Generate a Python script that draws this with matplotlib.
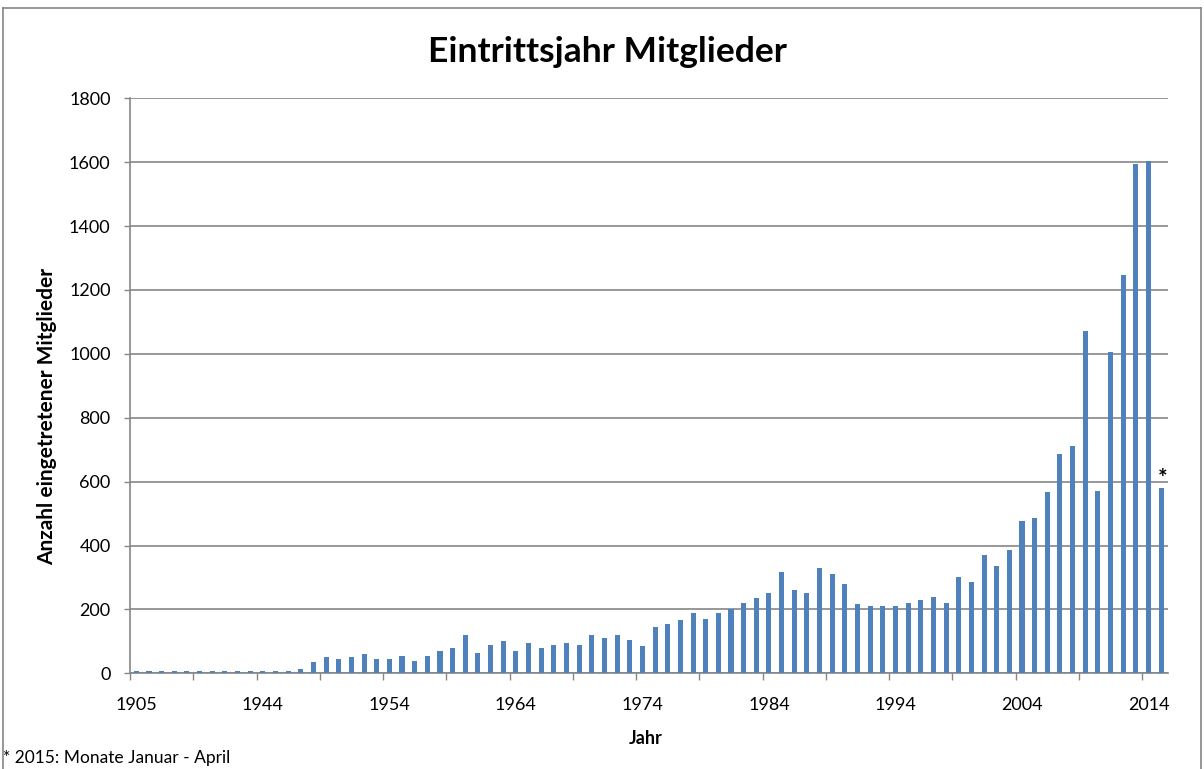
import matplotlib
matplotlib.use("Agg")
import matplotlib.pyplot as plt
from matplotlib.lines import Line2D

# ---- data ----
years = ["1905"] + [str(y) for y in range(1935, 2016)]
members = [
    6,                                              # 1905
    6, 6, 6, 6, 6, 6, 6, 6, 6, 6, 6, 6,             # 1935-1946
    15, 35, 50, 45, 50, 60, 45,                     # 1947-1953
    45, 55, 40, 55, 70, 80, 121, 65, 90, 101,       # 1954-1963
    70, 96, 80, 90, 96, 90, 121, 110, 121, 105,     # 1964-1973
    85, 146, 155, 166, 190, 171, 190, 201, 220, 235,  # 1974-1983
    250, 316, 260, 250, 331, 310, 280, 216, 210, 210,  # 1984-1993
    210, 220, 230, 240, 220, 300, 285, 370, 335, 385,  # 1994-2003
    476, 486, 566, 687, 711, 1073, 571, 1007, 1248, 1595,  # 2004-2013
    1605, 581,                                      # 2014-2015
]
yticks = [0, 200, 400, 600, 800, 1000, 1200, 1400, 1600, 1800]
title = "Eintrittsjahr Mitglieder"
xlabel = "Jahr"
ylabel = "Anzahl eingetretener Mitglieder"
footnote = "* 2015: Monate Januar - April"

BAR = "#4F81BD"
GRID = "#868686"
FONT = ["Lato", "DejaVu Sans"]
plt.rcParams["font.family"] = FONT

W, H = 1204, 769
fig = plt.figure(figsize=(W / 100, H / 100), dpi=100, facecolor="white")
ax = fig.add_axes([130 / W, 1 - 673.3 / H, (1167.5 - 130) / W, (673.3 - 98.3) / H])

x = list(range(len(years)))
ax.bar(x, members, width=0.4, color=BAR, zorder=3)

ax.set_xlim(-0.5, len(years) - 0.5)
ax.set_ylim(0, 1800)

ax.set_yticks(yticks)
ax.set_yticklabels([str(v) for v in yticks])
ax.yaxis.grid(True, color=GRID, linewidth=1.2, zorder=0)
ax.tick_params(axis="y", length=4, width=1, color=GRID, pad=10, labelsize=13)

# major ticks at category boundaries every 5 categories (no labels)
ax.set_xticks([i - 0.5 for i in range(0, len(years), 5)])
ax.set_xticklabels([])
ax.tick_params(axis="x", which="major", length=5, width=1, color=GRID)
# labels every 10 categories
lab_idx = list(range(0, len(years), 10))
ax.set_xticks(lab_idx, minor=True)
ax.set_xticklabels([years[i] for i in lab_idx], minor=True)
ax.tick_params(axis="x", which="minor", length=0, pad=17, labelsize=13)

for s in ["top", "right"]:
    ax.spines[s].set_visible(False)
for s in ["left", "bottom"]:
    ax.spines[s].set_color(GRID)
    ax.spines[s].set_linewidth(1.2)

# asterisk over the 2015 bar
ax.text(len(years) - 1 + 0.15, members[-1] - 5, "*", ha="center", va="bottom",
        fontsize=16, fontweight="bold", zorder=4)

fig.text(607 / W, 1 - 52 / H, title, ha="center", va="center",
         fontsize=25.5, fontweight="bold")
fig.text(646 / W, 1 - 738 / H, xlabel, ha="center", va="center",
         fontsize=13, fontweight="bold")
fig.text(47 / W, 1 - 416 / H, ylabel, ha="center", va="center",
         fontsize=15, fontweight="bold", rotation=90)
fig.text(3 / W, 1 - 758 / H, footnote, ha="left", va="center", fontsize=12.5)

# chart-area border
for (x0, y0, x1, y1) in [(3, 8, 1201, 8), (3, 8, 3, 769), (1201, 8, 1201, 769)]:
    fig.add_artist(Line2D([x0 / W, x1 / W], [1 - y0 / H, 1 - y1 / H],
                          transform=fig.transFigure, color=GRID, linewidth=1.2))

fig.savefig("out.png", dpi=100, facecolor="white")
